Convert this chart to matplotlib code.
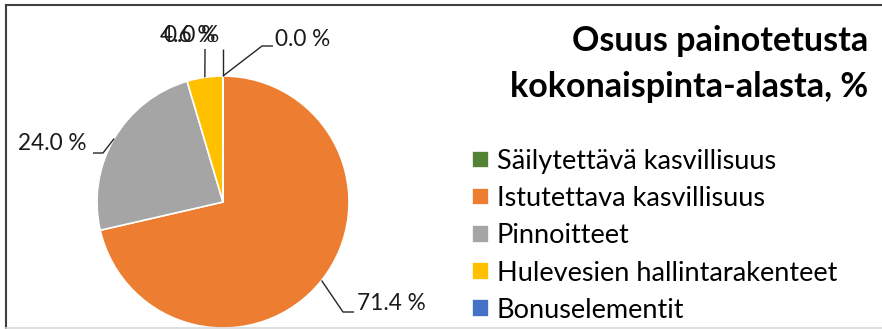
import matplotlib
matplotlib.use("Agg")
import matplotlib.pyplot as plt
import numpy as np
from matplotlib.lines import Line2D

plt.rcParams['font.family'] = ['Lato', 'DejaVu Sans']

# pie data
categories = [
    "Säilytettävä kasvillisuus",
    "Istutettava kasvillisuus",
    "Pinnoitteet",
    "Hulevesien hallintarakenteet",
    "Bonuselementit",
]
shares = [0.0, 71.4, 24.0, 4.6, 0.0]
colors = ["#548235", "#ED7D31", "#A5A5A5", "#FFC000", "#4472C4"]
title = "Osuus painotetusta\nkokonaispinta-alasta, %"

W, H = 882, 329
fig = plt.figure(figsize=(W / 100, H / 100), dpi=100)
ax = fig.add_axes([0, 0, 1, 1])

# pixel-like coordinates, y grows downwards
cx, cy, r = 223, 202, 126
wedges, _ = ax.pie(shares, colors=colors, startangle=-90, counterclock=True,
                   radius=r, center=(cx, cy), frame=True,
                   wedgeprops=dict(edgecolor="white", linewidth=1.2))
ax.set_xlim(0, W)
ax.set_ylim(H, 0)
ax.set_aspect("auto")
ax.axis("off")

# label layout per slice: (elbow points of the leader, text position, alignment)
label_layout = [
    ([(262, 46), (273, 46)], (275, 39), "left"),
    ([(343, 312), (354, 312)], (357, 303), "left"),
    ([(103, 153), (93, 153)], (87, 144), "right"),
    ([(205, 49)], (188, 35), "center"),
    ([(223, 49)], (192, 35), "center"),
]

for w, val, (pts, (tx, ty), ha) in zip(wedges, shares, label_layout):
    mid = np.deg2rad((w.theta1 + w.theta2) / 2)
    ax0 = cx + r * np.cos(mid)
    ay0 = cy + r * np.sin(mid)
    xs = [ax0] + [p[0] for p in pts]
    ys = [ay0] + [p[1] for p in pts]
    ax.plot(xs, ys, color="#262626", lw=1.0, solid_capstyle="butt")
    ax.text(tx, ty, f"{val:.1f} %", ha=ha, va="center", fontsize=16.3,
            color="#1a1a1a")

ax.text(868, 64, title, ha="right", va="center", fontsize=24.5,
        fontweight="bold", color="black", linespacing=1.55)

ax.legend(wedges, categories, loc="upper left",
          bbox_to_anchor=(472, 149), bbox_transform=ax.transData,
          frameon=False, fontsize=19.5, handlelength=0.62, handleheight=0.62,
          handletextpad=0.3, labelspacing=0.45, borderpad=0, borderaxespad=0)

# chart border
ax.add_line(Line2D([5.5, 5.5], [4.5, H], color="#404040", lw=1.5))
ax.add_line(Line2D([5.5, W], [4.5, 4.5], color="#404040", lw=1.5))
ax.add_line(Line2D([5.5, W], [327.5, 327.5], color="#D9D9D9", lw=1.2))

fig.savefig("out.png", dpi=100)
